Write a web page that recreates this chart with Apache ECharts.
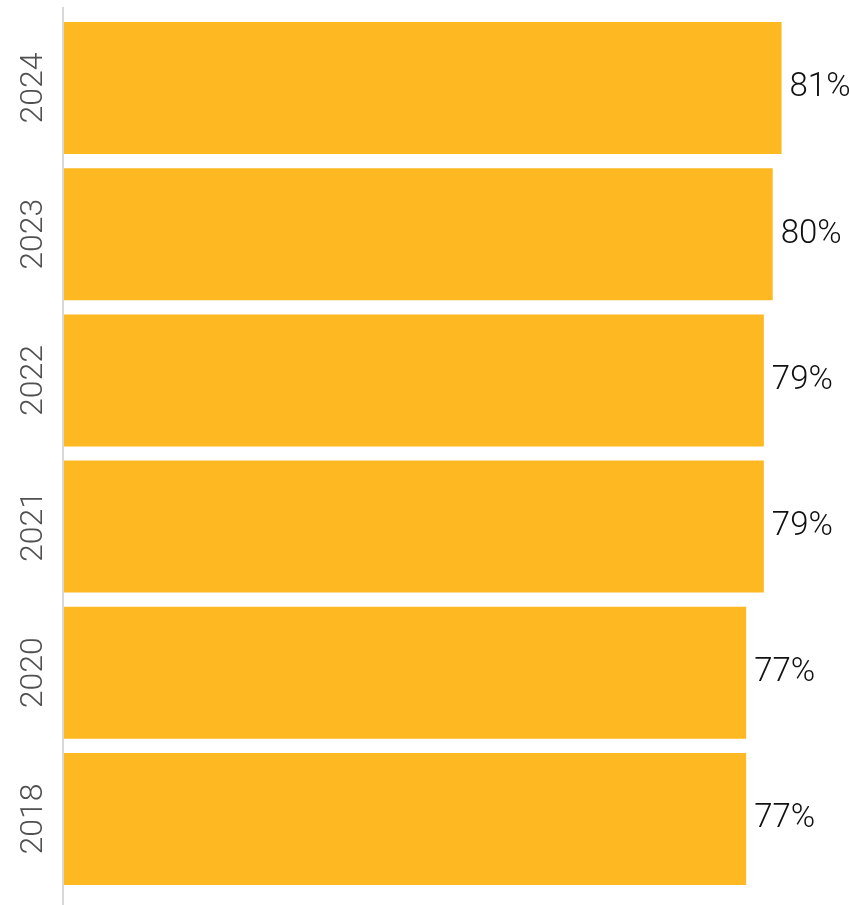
<!DOCTYPE html>
<html>
<head>
<meta charset="utf-8">
<script src="https://cdn.jsdelivr.net/npm/echarts@6/dist/echarts.min.js"></script>
<style>
html,body{margin:0;padding:0;background:#fff;}
#chart{width:849px;height:905px;}
</style>
</head>
<body>
<div id="chart"></div>
<script>
const years = ['2018', '2020', '2021', '2022', '2023', '2024'];
const values = [77, 77, 79, 79, 80, 81];

const chart = echarts.init(document.getElementById('chart'), null, {renderer: 'canvas'});
chart.setOption({
  animation: false,
  backgroundColor: '#ffffff',
  grid: {left: 64, top: 15, width: 753, height: 877, containLabel: false},
  xAxis: {
    type: 'value', min: 0, max: 85, show: false
  },
  yAxis: {
    type: 'category',
    data: years,
    axisLine: {show: false},
    axisTick: {show: false},
    axisLabel: {
      rotate: 90,
      margin: 14,
      fontFamily: 'Roboto',
      fontWeight: 300,
      fontSize: 32,
      color: '#505050'
    }
  },
  graphic: [{
    type: 'rect',
    shape: {x: 62, y: 7, width: 2, height: 898},
    style: {fill: '#d9d9d9'},
    silent: true
  }],
  series: [{
    type: 'bar',
    data: values,
    barCategoryGap: '9.7%',
    itemStyle: {color: '#FDB822'},
    label: {
      show: true,
      position: 'right',
      distance: 8,
      formatter: '{c}%',
      fontFamily: 'Roboto',
      fontWeight: 300,
      fontSize: 33,
      color: '#111111'
    }
  }]
});
</script>
</body>
</html>
